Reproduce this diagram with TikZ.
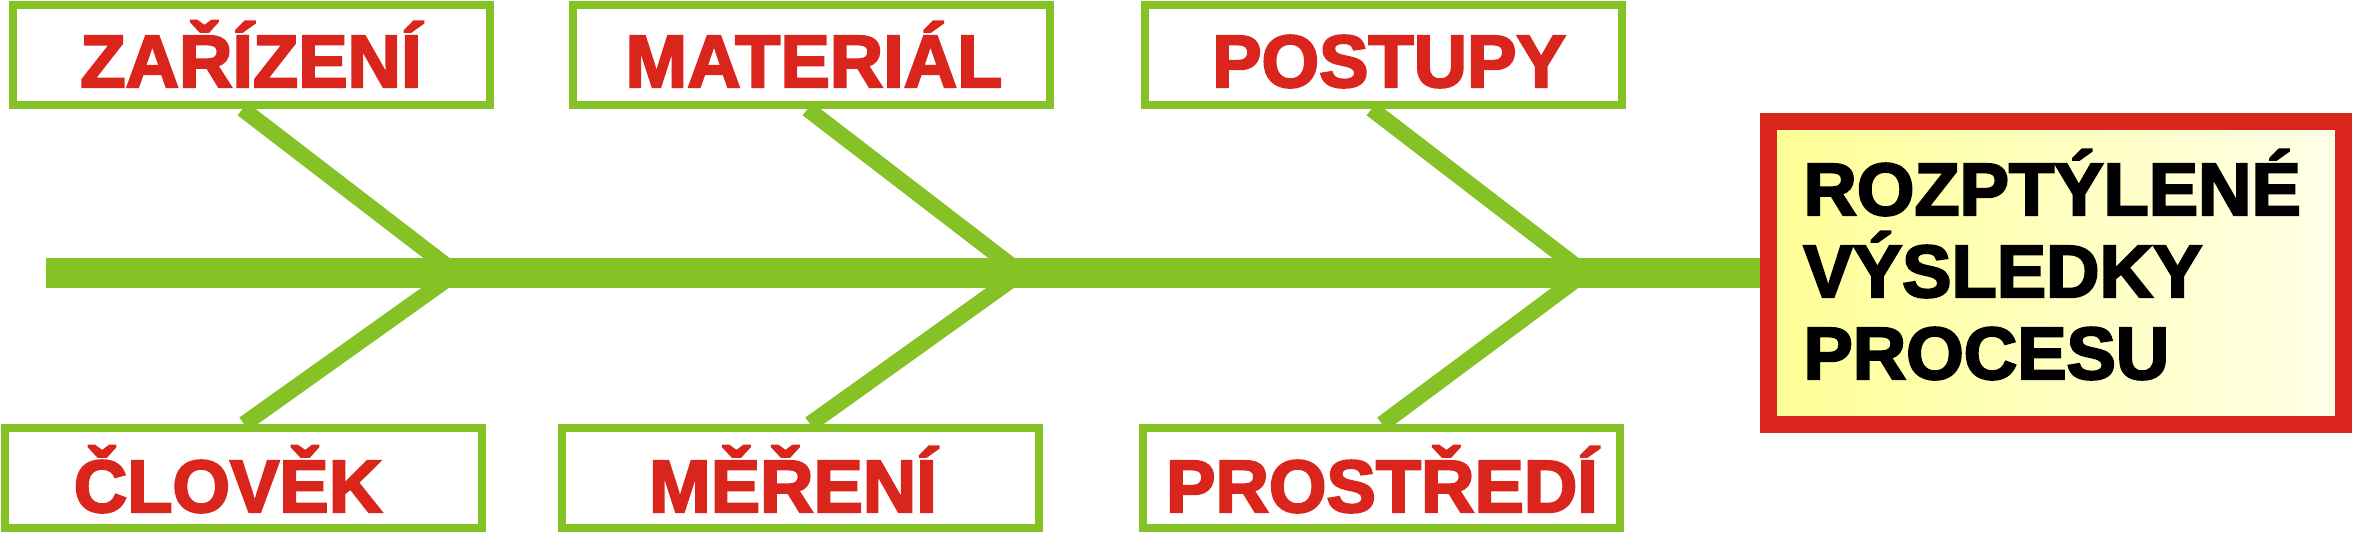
\documentclass[tikz,border=0pt]{standalone}
\usepackage{fontspec}
\setmainfont{Liberation Sans}[BoldFont={Liberation Sans Bold}, BoldFeatures={FakeBold=3}]
\usetikzlibrary{calc}
\definecolor{grn}{RGB}{132,194,37}
\definecolor{rd}{RGB}{218,37,29}
\definecolor{ylw}{RGB}{255,255,150}
\definecolor{ylwl}{RGB}{255,255,232}
\begin{document}
\begin{tikzpicture}[x=0.5pt,y=-0.5pt,
  catbox/.style={draw=grn, line width=4pt, minimum width=238.5pt, minimum height=50pt, inner sep=0pt, fill=white},
  cattext/.style={anchor=base, inner sep=0pt, text=rd, font=\bfseries\fontsize{37pt}{37pt}\selectfont},
  restext/.style={anchor=base west, inner sep=0pt, text=black, font=\bfseries\fontsize{37pt}{37pt}\selectfont},
  bone/.style={draw=grn, line width=8pt, line join=miter},
  spine/.style={draw=grn, line width=15pt},
  resbox/.style={draw=rd, line width=8.5pt, minimum width=287.5pt, minimum height=151.5pt, inner sep=0pt}]
\useasboundingbox (0,0) rectangle (2356,535);
% category boxes
\node[catbox] (b1) at (251,55) {};
\node[catbox] (b2) at (811,55) {};
\node[catbox] (b3) at (1383,55) {};
\node[catbox] (b4) at (243.5,478) {};
\node[catbox] (b5) at (800.5,478) {};
\node[catbox] (b6) at (1381.5,478) {};
\node[cattext] (t1) at (251,87) {ZAŘÍZENÍ};
\node[cattext] (t2) at (814,87) {MATERIÁL};
\node[cattext] (t3) at (1389,87) {POSTUPY};
\node[cattext] (t4) at (228,512) {ČLOVĚK};
\node[cattext] (t5) at (793,512) {MĚŘENÍ};
\node[cattext] (t6) at (1382,512) {PROSTŘEDÍ};
% junctions on the spine
\coordinate (s0) at (46,273);
\coordinate (j1) at (456,273);
\coordinate (j2) at (1021,273);
\coordinate (j3) at (1585,273);
% bones
\draw[bone] ($(b1.south west)+(234,0)$) -- (j1) -- ($(b4.north west)+(243,0)$);
\draw[bone] ($(b2.south west)+(239,0)$) -- (j2) -- ($(b5.north west)+(252,0)$);
\draw[bone] ($(b3.south west)+(231,0)$) -- (j3) -- ($(b6.north west)+(243,0)$);
% result box
\node[resbox, left color=ylw, right color=ylwl] (res) at (2056,273) {};
\draw[spine] (s0) -- (res.west);
\node[resbox] (res2) at (2056,273) {};
\node[restext] (r1) at (1803,215) {ROZPTÝLENÉ};
\node[restext] (r2) at (1803,297) {VÝSLEDKY};
\node[restext] (r3) at (1803,379) {PROCESU};
\end{tikzpicture}
\end{document}
